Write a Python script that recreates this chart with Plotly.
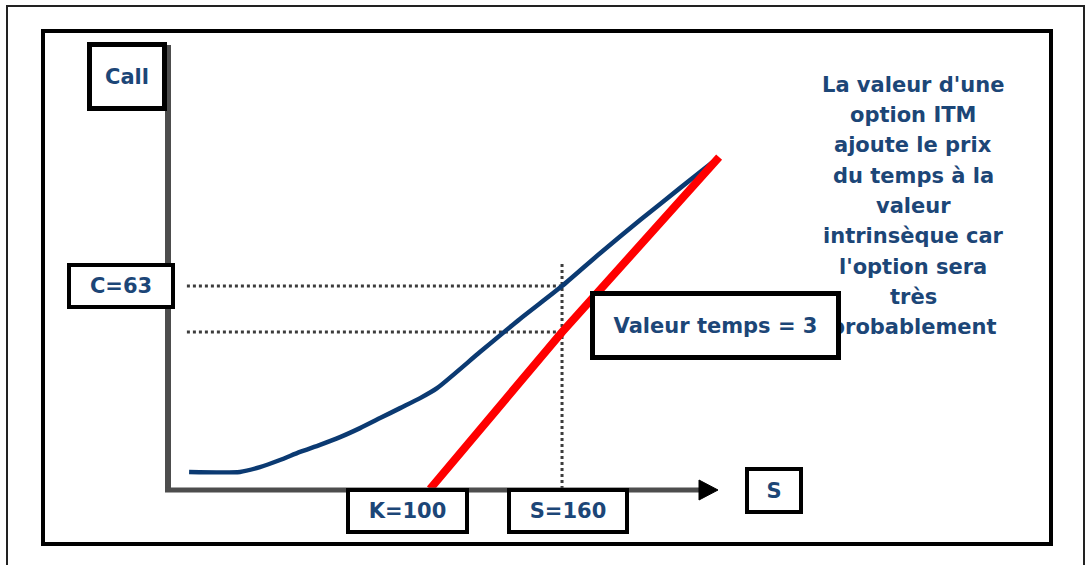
import plotly.graph_objects as go

# ---- values -------------------------------------------------------------
strike = 100          # K
spot = 160            # S
call_price = 63       # C

# call value curve (S, Call)
curve_s = [-9.5, 13.6, 22.7, 31.8, 40.9, 50.0, 59.1, 68.2, 77.3, 86.4, 95.5,
           103.2, 122.7, 140.9, 160.0, 177.3, 195.5, 213.6, 229.1]
curve_c = [5.3, 5.3, 6.8, 9.0, 11.5, 13.7, 16.1, 18.9, 22.0, 25.1, 28.2,
           31.3, 42.5, 52.8, 63.0, 73.2, 83.5, 93.4, 101.8]

# intrinsic value line (S, Call)
payoff_s = [100, 160, 231.4]
payoff_c = [0, 48.7, 103.0]

guide_left = -10.5    # where the dotted guides start on the S scale
guide_top = 70.5      # top of the vertical dotted guide

right_note = ["La valeur d'une", "option ITM", "ajoute le prix", "du temps à la",
              "valeur", "intrinsèque car", "l'option sera", "très", "probablement"]

label_call = "Call"
label_c = "C=63"
label_k = "K=100"
label_s = "S=160"
label_s_axis = "S"
label_time = "Valeur temps = 3"

# ---- page geometry --------------------------------------------------------
W, H = 1085, 565
TEXT_BLUE = "#1c4677"
FONT = "DejaVu Sans"


def px(x):
    return x / W


def py(y):
    return 1 - y / H


fig = go.Figure()

dot = dict(color="#3c3c3c", width=3, dash="dot")
fig.add_trace(go.Scatter(x=[guide_left, spot], y=[call_price, call_price],
                         mode="lines", line=dot, hoverinfo="skip"))
fig.add_trace(go.Scatter(x=[guide_left, spot], y=[payoff_c[1], payoff_c[1]],
                         mode="lines", line=dot, hoverinfo="skip"))
fig.add_trace(go.Scatter(x=[spot, spot], y=[0, guide_top],
                         mode="lines", line=dot, hoverinfo="skip"))

fig.add_trace(go.Scatter(x=curve_s, y=curve_c, mode="lines",
                         line=dict(color="#0b3a72", width=4.5, shape="spline",
                                   smoothing=0.6)))
fig.add_trace(go.Scatter(x=payoff_s, y=payoff_c, mode="lines",
                         line=dict(color="#ff0000", width=8)))

shapes = [
    # outer thin frame and inner thick frame
    dict(type="rect", xref="paper", yref="paper", x0=px(7), x1=px(1084),
         y0=py(6), y1=py(580), line=dict(color="#222222", width=2)),
    dict(type="rect", xref="paper", yref="paper", x0=px(43), x1=px(1051),
         y0=py(31), y1=py(544), line=dict(color="black", width=4)),
    # axes
    dict(type="line", xref="paper", yref="paper", x0=px(168), x1=px(168),
         y0=py(45), y1=py(492), line=dict(color="#4d4d4d", width=6)),
    dict(type="line", xref="paper", yref="paper", x0=px(165), x1=px(706),
         y0=py(490), y1=py(490), line=dict(color="#4d4d4d", width=5)),
    dict(type="path", xref="paper", yref="paper",
         path=f"M {px(699)},{py(480)} L {px(718)},{py(490)} L {px(699)},{py(500)} Z",
         fillcolor="black", line=dict(color="black", width=1)),
]

annotations = []
for i, line in enumerate(right_note):
    annotations.append(dict(
        text=f"<b>{line}</b>", xref="paper", yref="paper",
        x=px(913), y=py(85 + 30.25 * i), xanchor="center", yanchor="middle",
        showarrow=False, font=dict(family=FONT, size=21, color=TEXT_BLUE)))


def box(text, x0, y0, x1, y1, bw=4):
    return dict(
        text=f"<b>{text}</b>", xref="paper", yref="paper",
        x=px(x0), y=py(y0), xanchor="left", yanchor="top",
        width=(x1 - x0) - 2 * bw, height=(y1 - y0) - 2 * bw,
        borderwidth=bw, borderpad=0, bordercolor="black", bgcolor="white",
        align="center", valign="middle", showarrow=False,
        font=dict(family=FONT, size=21, color=TEXT_BLUE))


annotations += [
    box(label_call, 87, 42, 167, 111, 5),
    box(label_c, 67, 263, 175, 309),
    box(label_k, 346, 488, 469, 534),
    box(label_s, 507, 488, 629, 534),
    box(label_s_axis, 745, 467, 803, 514),
    box(label_time, 590, 291, 841, 360, 5),
]

fig.update_layout(
    width=W, height=H, margin=dict(l=0, r=0, t=0, b=0),
    paper_bgcolor="white", plot_bgcolor="white", showlegend=False,
    xaxis=dict(range=[-95.45, 397.7], visible=False, domain=[0, 1]),
    yaxis=dict(range=[-23.6, 151.8], visible=False, domain=[0, 1]),
    shapes=shapes, annotations=annotations,
)

fig.write_html("out.html")
